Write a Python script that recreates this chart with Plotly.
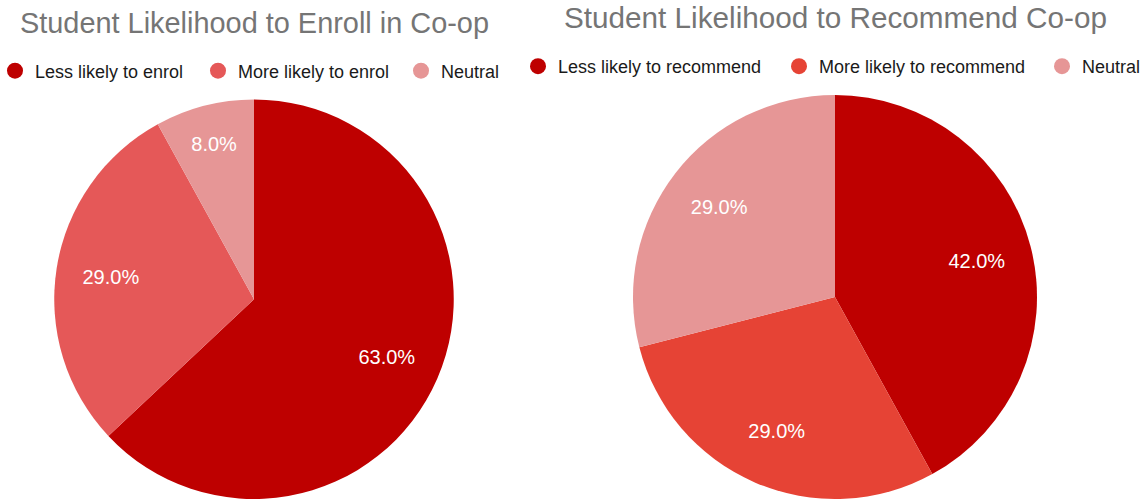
import plotly.graph_objects as go

# ---- data ----
enroll_labels = ["Less likely to enrol", "More likely to enrol", "Neutral"]
enroll_values = [63.0, 29.0, 8.0]
enroll_colors = ["#BE0000", "#E55858", "#E69696"]

recommend_labels = ["Less likely to recommend", "More likely to recommend", "Neutral"]
recommend_values = [42.0, 29.0, 29.0]
recommend_colors = ["#BE0000", "#E64335", "#E69696"]

title_left = "Student Likelihood to Enroll in Co-op"
title_right = "Student Likelihood to Recommend Co-op"

W, H = 1146, 499
FONT = "Liberation Sans, Arial, sans-serif"

fig = go.Figure()

left_domain = dict(x=[53 / W, 455 / W], y=[0, 1 - 99.5 / H])
right_domain = dict(x=[631 / W, 1039 / W], y=[0, 1 - 95 / H])

base = dict(sort=False, direction="clockwise", rotation=0, showlegend=False)

# filled pies (no text)
fig.add_trace(go.Pie(labels=enroll_labels, values=enroll_values, marker_colors=enroll_colors,
                     domain=left_domain, textinfo="none", hoverinfo="label+percent",
                     marker_line_width=0, **base))
fig.add_trace(go.Pie(labels=recommend_labels, values=recommend_values, marker_colors=recommend_colors,
                     domain=right_domain, textinfo="none", hoverinfo="label+percent",
                     marker_line_width=0, **base))

# transparent ring overlay carrying the percentage labels (places them at ~0.72 R)
label_common = dict(
    hole=0.45,
    textinfo="percent",
    texttemplate="%{percent:.1%}",
    textposition="inside",
    insidetextorientation="horizontal",
    textfont=dict(color="white", size=20, family=FONT),
    hoverinfo="skip",
    marker=dict(colors=["rgba(0,0,0,0)"] * 3, line=dict(width=0)),
    **base,
)
fig.add_trace(go.Pie(labels=enroll_labels, values=enroll_values, domain=left_domain, **label_common))
fig.add_trace(go.Pie(labels=recommend_labels, values=recommend_values, domain=right_domain, **label_common))

# legend entries with circle markers, one legend per entry for exact spacing
left_legend_x = [15, 218, 421]
right_legend_x = [538, 799, 1062]
legend_layout = {}
k = 0
for labs, cols, xs, yc in ((enroll_labels, enroll_colors, left_legend_x, 71),
                           (recommend_labels, recommend_colors, right_legend_x, 66.5)):
    for lab, col, cx in zip(labs, cols, xs):
        k += 1
        lname = "legend" if k == 1 else f"legend{k}"
        fig.add_trace(go.Scatter(x=[None], y=[None], mode="markers", name=lab,
                                 marker=dict(symbol="circle", size=16, color=col),
                                 legend=lname, showlegend=True, hoverinfo="skip"))
        legend_layout[lname] = dict(
            x=(cx - 20) / W, y=1 - yc / H,
            xanchor="left", yanchor="middle", orientation="h",
            font=dict(size=18, color="#1a1a1a", family=FONT),
            bgcolor="rgba(0,0,0,0)", borderwidth=0,
            itemclick=False, itemdoubleclick=False,
        )

fig.update_layout(
    width=W, height=H,
    margin=dict(l=0, r=0, t=0, b=0, autoexpand=False),
    paper_bgcolor="white",
    plot_bgcolor="white",
    xaxis=dict(visible=False),
    yaxis=dict(visible=False),
    annotations=[
        dict(text=title_left, x=254 / W, y=1 - 41 / H, xref="paper", yref="paper",
             xanchor="center", yanchor="bottom", showarrow=False,
             font=dict(size=28.9, color="#757575", family=FONT)),
        dict(text=title_right, x=835 / W, y=1 - 36.5 / H, xref="paper", yref="paper",
             xanchor="center", yanchor="bottom", showarrow=False,
             font=dict(size=29.7, color="#757575", family=FONT)),
    ],
    **legend_layout,
)

fig.write_html("out.html", config={"displayModeBar": False},
               post_script="document.body.style.margin='0';document.body.style.overflow='hidden';")
